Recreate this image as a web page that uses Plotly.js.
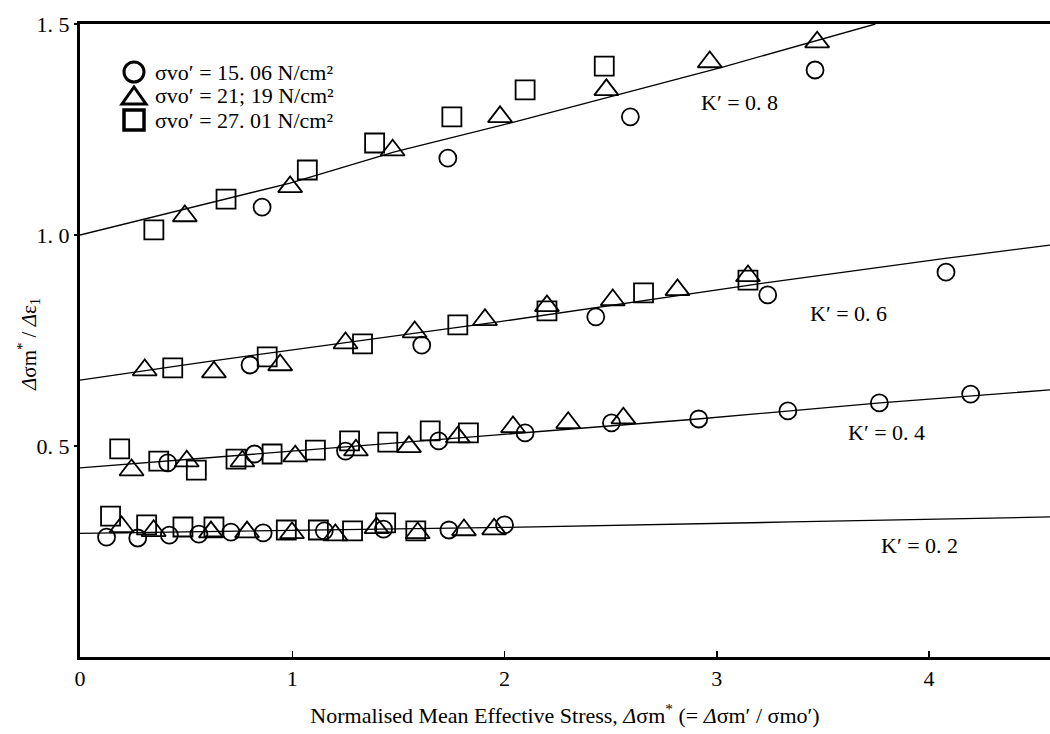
<!DOCTYPE html>
<html>
<head>
<meta charset="utf-8">
<script src="https://cdn.plot.ly/plotly-3.0.1.min.js"></script>
<style>html,body{margin:0;padding:0;background:#fff;}#chart{width:1050px;height:734px;}</style>
</head>
<body>
<div id="chart"></div>
<script>
// ---- Fitted lines ----
var lineK08X = [0, 0.99, 1.482, 2.026, 2.532, 3.028, 3.747];
var lineK08Y = [1.0, 1.123, 1.197, 1.265, 1.332, 1.398, 1.5];
var lineK06X = [0, 0.584, 1.97, 3.22, 4.085, 4.57];
var lineK06Y = [0.656, 0.699, 0.794, 0.886, 0.945, 0.976];
var lineK04X = [0, 1.97, 2.91, 3.77, 4.57];
var lineK04Y = [0.448, 0.526, 0.564, 0.602, 0.633];
var lineK02X = [0, 2.0, 3.35, 4.57];
var lineK02Y = [0.293, 0.307, 0.320, 0.332];

// ---- Circles: σvo' = 15.06 N/cm² ----
var circX = [0.858, 1.733, 2.593, 3.463,                       // K'=0.8
             0.801, 1.610, 2.43, 3.24, 4.08,                  // K'=0.6
             0.413, 0.822, 1.251, 1.69, 2.097, 2.504, 2.915, 3.335, 3.766, 4.196, // K'=0.4
             0.125, 0.272, 0.421, 0.560, 0.711, 0.863, 1.151, 1.430, 1.738, 2.0]; // K'=0.2
var circY = [1.066, 1.182, 1.280, 1.391,
             0.692, 0.739, 0.806, 0.858, 0.912,
             0.460, 0.481, 0.488, 0.512, 0.531, 0.555, 0.564, 0.583, 0.602, 0.623,
             0.284, 0.282, 0.289, 0.291, 0.296, 0.294, 0.299, 0.303, 0.301, 0.313];

// ---- Triangles: σvo' = 21.19 N/cm² ----
var triX = [0.494, 0.990, 1.473, 1.979, 2.480, 2.967, 3.473,
            0.305, 0.631, 0.943, 1.251, 1.577, 1.908, 2.20, 2.51, 2.815, 3.147,
            0.243, 0.503, 0.765, 1.014, 1.30, 1.55, 1.78, 2.04, 2.30, 2.56,
            0.196, 0.347, 0.617, 0.787, 0.999, 1.203, 1.397, 1.591, 1.809, 1.951];
var triY = [1.045, 1.114, 1.201, 1.280, 1.344, 1.410, 1.457,
            0.680, 0.675, 0.692, 0.744, 0.770, 0.799, 0.832, 0.846, 0.870, 0.903,
            0.443, 0.464, 0.464, 0.476, 0.490, 0.498, 0.521, 0.545, 0.555, 0.566,
            0.308, 0.299, 0.296, 0.296, 0.294, 0.289, 0.306, 0.294, 0.301, 0.303];

// ---- Squares: σvo' = 27.01 N/cm² ----
var sqX = [0.348, 0.688, 1.071, 1.388, 1.752, 2.097, 2.470,
           0.437, 0.882, 1.331, 1.780, 2.20, 2.655, 3.147,
           0.187, 0.371, 0.548, 0.735, 0.905, 1.109, 1.27, 1.45, 1.65, 1.83,
           0.144, 0.314, 0.485, 0.631, 0.972, 1.123, 1.284, 1.440, 1.582];
var sqY = [1.012, 1.085, 1.154, 1.218, 1.280, 1.344, 1.400,
           0.685, 0.711, 0.742, 0.787, 0.820, 0.863, 0.893,
           0.493, 0.464, 0.443, 0.469, 0.481, 0.490, 0.512, 0.509, 0.536, 0.531,
           0.334, 0.313, 0.308, 0.308, 0.301, 0.301, 0.299, 0.318, 0.299];

var legendNames = ["σvo′ = 15. 06 N/cm²", "σvo′ = 21; 19 N/cm²", "σvo′ = 27. 01 N/cm²"];
var xTickVals = [0, 1, 2, 3, 4];
var xTickText = ["0", "1", "2", "3", "4"];
var yTickVals = [0.5, 1.0, 1.5];
var yTickText = ["0. 5", "1. 0", "1. 5"];
var kLabels = ["K′ = 0. 8", "K′ = 0. 6", "K′ = 0. 4", "K′ = 0. 2"];
var kLabelX = [2.915, 3.43, 3.61, 3.765];
var kLabelY = [1.315, 0.815, 0.531, 0.265];
var xTitle = "Normalised Mean Effective Stress, <i>Δ</i>σm<sup>*</sup> (= <i>Δ</i>σm′ / σmo′)";
var yTitle = "<i>Δ</i>σm<sup>*</sup> / <i>Δ</i>ε<sub>1</sub>";

var SERIF = "'Liberation Serif', 'DejaVu Serif', serif";
var lineStyle = {color: "#000", width: 1.3};
function lineTrace(x, y) {
  return {x: x, y: y, mode: "lines", line: lineStyle, showlegend: false, hoverinfo: "skip"};
}
var traces = [
  lineTrace(lineK08X, lineK08Y),
  lineTrace(lineK06X, lineK06Y),
  lineTrace(lineK04X, lineK04Y),
  lineTrace(lineK02X, lineK02Y),
  {x: circX, y: circY, mode: "markers", name: legendNames[0], showlegend: false,
   marker: {symbol: "circle-open", size: 17, color: "#000", line: {width: 1.8, color: "#000"}}},
  {x: triX, y: triY, mode: "markers", name: legendNames[1], showlegend: false,
   marker: {symbol: "triangle-up-open", size: 21, color: "#000", line: {width: 1.8, color: "#000"}}},
  {x: sqX, y: sqY, mode: "markers", name: legendNames[2], showlegend: false,
   marker: {symbol: "square-open", size: 19, color: "#000", line: {width: 1.8, color: "#000"}}}
];

var annotations = kLabels.map(function (t, i) {
  return {x: kLabelX[i], y: kLabelY[i], xref: "x", yref: "y", text: t, showarrow: false,
          xanchor: "left", yanchor: "middle", font: {family: SERIF, size: 22, color: "#000"}};
});

// ---- Legend drawn as key symbols + texts (paper coordinates) ----
var plotW = 970, plotH = 633, plotL = 80, plotT = 24;
function px2x(p) { return (p - plotL) / plotW; }
function px2y(p) { return 1 - (p - plotT) / plotH; }
var legRowY = [72, 96, 120];
var legSymX = 134, legTextX = 153;
legendNames.forEach(function (t, i) {
  annotations.push({x: px2x(legTextX), y: px2y(legRowY[i]), xref: "paper", yref: "paper",
    text: t, showarrow: false, xanchor: "left", yanchor: "middle",
    font: {family: SERIF, size: 22, color: "#000"}});
});
// y-axis title placed as rotated text
annotations.push({x: px2x(28), y: px2y(345), xref: "paper", yref: "paper", text: yTitle,
  textangle: -90, showarrow: false, xanchor: "center", yanchor: "middle",
  font: {family: SERIF, size: 21, color: "#000"}});

var cx = px2x(legSymX), rX = 10 / plotW, rY = 10 / plotH;
var shapes = [
  {type: "circle", xref: "paper", yref: "paper",
   x0: cx - rX, x1: cx + rX, y0: px2y(legRowY[0]) - rY, y1: px2y(legRowY[0]) + rY,
   line: {color: "#000", width: 3}},
  {type: "path", xref: "paper", yref: "paper",
   path: "M " + px2x(legSymX - 12) + "," + px2y(legRowY[1] + 8) +
         " L " + px2x(legSymX + 12) + "," + px2y(legRowY[1] + 8) +
         " L " + px2x(legSymX) + "," + px2y(legRowY[1] - 9) + " Z",
   line: {color: "#000", width: 3}},
  {type: "rect", xref: "paper", yref: "paper",
   x0: px2x(legSymX - 10), x1: px2x(legSymX + 10),
   y0: px2y(legRowY[2] + 10), y1: px2y(legRowY[2] - 10),
   line: {color: "#000", width: 3.5}}
];

var layout = {
  width: 1050, height: 734,
  margin: {l: 80, r: 0, t: 24, b: 77, pad: 0},
  paper_bgcolor: "#fff", plot_bgcolor: "#fff",
  font: {family: SERIF, size: 22, color: "#000"},
  showlegend: false,
  xaxis: {range: [0, 4.57], tickvals: xTickVals, ticktext: xTickText,
          showline: true, linewidth: 3, linecolor: "#000", mirror: true,
          ticks: "inside", ticklen: 6, tickwidth: 1.5, tickcolor: "#000",
          showgrid: false, zeroline: false, tickfont: {family: SERIF, size: 22},
          title: {text: xTitle, font: {family: SERIF, size: 22}, standoff: 18}},
  yaxis: {range: [0, 1.5], tickvals: yTickVals, ticktext: yTickText,
          showline: true, linewidth: 3, linecolor: "#000",
          ticks: "outside", ticklen: 3, tickwidth: 1.5, tickcolor: "#000",
          showgrid: false, zeroline: false, tickfont: {family: SERIF, size: 22}},
  annotations: annotations,
  shapes: shapes
};

Plotly.newPlot("chart", traces, layout, {displayModeBar: false, staticPlot: true});
</script>
</body>
</html>
